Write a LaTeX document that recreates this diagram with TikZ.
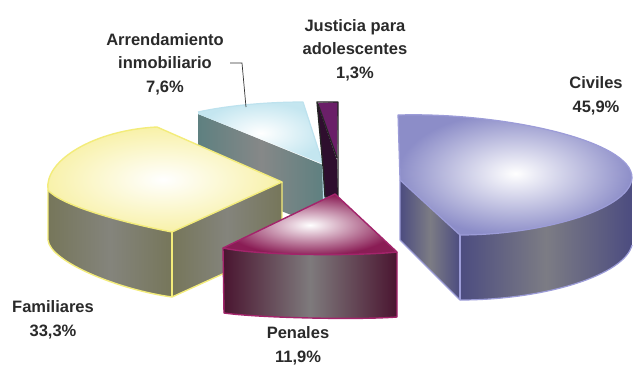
\documentclass[tikz,border=0pt]{standalone}
\usepackage{fontspec}
\setmainfont{Liberation Sans}
\definecolor{txt}{HTML}{2A2A2A}
\definecolor{civtop}{HTML}{8C8DC8}
\definecolor{civrim}{HTML}{9C9CD8}
\definecolor{civside}{HTML}{4C4C80}
\definecolor{civmid}{HTML}{7C7C84}
\definecolor{pentop}{HTML}{8A1D55}
\definecolor{penrim}{HTML}{A3246B}
\definecolor{penside}{HTML}{4A1530}
\definecolor{penmid}{HTML}{7E7A7C}
\definecolor{famtop}{HTML}{F8F1A8}
\definecolor{famrim}{HTML}{F3EC7A}
\definecolor{famside}{HTML}{76765A}
\definecolor{fammid}{HTML}{84847C}
\definecolor{arrtop}{HTML}{C4E6F0}
\definecolor{arrrim}{HTML}{BDE2EE}
\definecolor{arrside}{HTML}{5E8080}
\definecolor{arrmid}{HTML}{868888}
\definecolor{juslight}{HTML}{6A1F68}
\definecolor{jusdark}{HTML}{2E0E2E}
\tikzset{
  lbl/.style={font=\bfseries\fontsize{16.5}{23.5}\selectfont, text=txt, align=center, inner sep=0pt},
  rimline/.style={line width=1.4pt, line join=round},
}
\begin{document}
\begin{tikzpicture}[x=1pt,y=-1pt]
\useasboundingbox (0,0) rectangle (633,367);
\fill[white] (0,0) rectangle (633,367);

% ---------- Arrendamiento inmobiliario ----------
\path[shade, left color=arrside, right color=arrside, middle color=arrmid]
  (198,114) -- (323,165) -- (324,228) -- (198,178) -- cycle;
\fill[arrrim] (322,163) -- (326,163) -- (328,200) -- (323,200) -- cycle;
\path[shade, inner color=white, outer color=arrtop]
  (198,112) .. controls (230,105) and (270,102) .. (303,102) -- (323,164) -- (198,114) -- cycle;
\draw[arrrim, line width=1.2pt, line join=round]
  (198,112) .. controls (230,105) and (270,102) .. (303,102) -- (323,164);

% ---------- Justicia para adolescentes ----------
\fill[jusdark] (317,102) -- (337,160) -- (338,197) -- (325,197) -- (323,167) -- cycle;
\fill[juslight] (318,103) -- (338,102) -- (337,158) -- cycle;
\draw[black!85, line width=1.3pt] (318,104) -- (337,158);
\draw[black!85, line width=1.3pt, line join=round]
  (317,102) -- (338,102) -- (338,197) -- (325,197) -- (323,167) -- cycle;

% ---------- Familiares ----------
\path[shade, left color=famside, right color=famside, middle color=fammid]
  (48,190) -- (48,240) .. controls (50,262) and (120,290) .. (172,297) -- (172,232)
  .. controls (120,222) and (60,205) .. (48,190) -- cycle;
\path[shade, left color=famside, right color=famside, middle color=fammid]
  (172,232) -- (282,182) -- (282,247) -- (172,297) -- cycle;
\path[shade, inner color=white, outer color=famtop]
  (157,127) -- (282,182) -- (172,232) .. controls (120,222) and (60,205) .. (48,190)
  .. controls (44,160) and (95,130) .. (157,127) -- cycle;
\draw[famrim, rimline]
  (157,127) -- (282,182) -- (172,232) .. controls (120,222) and (60,205) .. (48,190)
  .. controls (44,160) and (95,130) .. (157,127) -- cycle;
\draw[famrim, rimline]
  (48,190) -- (48,240) .. controls (50,262) and (120,290) .. (172,297) -- (282,247) -- (282,182);
\draw[famrim, rimline] (172,232) -- (172,297);

% ---------- Penales ----------
\path[shade, left color=penside, right color=penside, middle color=penmid]
  (223,248) .. controls (260,256) and (360,256) .. (397,252) -- (397,317)
  .. controls (360,320) and (260,318) .. (224,313) -- cycle;
\path[shade, inner color=white, outer color=pentop]
  (335,194) -- (397,252) .. controls (360,256) and (260,256) .. (223,248) -- cycle;
\draw[penrim, rimline]
  (335,194) -- (397,252) .. controls (360,256) and (260,256) .. (223,248) -- cycle;
\draw[penrim, rimline]
  (223,248) -- (224,313) .. controls (260,318) and (360,320) .. (397,317) -- (397,252);

% ---------- Civiles ----------
\path[shade, left color=civside, right color=civside, middle color=civmid]
  (400,180) -- (460,235) -- (460,300) -- (400,240) -- cycle;
\path[shade, left color=civside, right color=civside, middle color=civmid]
  (460,235) .. controls (540,235) and (630,210) .. (632,178) -- (632,245)
  .. controls (625,275) and (545,300) .. (460,300) -- cycle;
\path[shade, inner color=white, outer color=civtop]
  (398,115) .. controls (500,112) and (633,140) .. (632,178)
  .. controls (630,210) and (540,235) .. (460,235) -- (400,180) -- cycle;
\draw[civrim, line width=1.2pt, line join=round]
  (398,115) .. controls (500,112) and (633,140) .. (632,178)
  .. controls (630,210) and (540,235) .. (460,235) -- (400,180) -- cycle;
\draw[civrim, line width=1.2pt, line join=round]
  (400,180) -- (400,240) -- (460,300) .. controls (545,300) and (625,275) .. (632,245);
\draw[civrim, line width=1.2pt] (460,235) -- (460,300);

% ---------- leader ----------
\coordinate (la) at (230,63);
\coordinate (lb) at (242,63);
\coordinate (lc) at (246,107);
\draw[black!80, line width=0.7pt] (la) -- (lb) -- (lc);

% ---------- labels ----------
\node[lbl] (arr) at (165,64) {Arrendamiento\\inmobiliario\\7,6\%};
\node[lbl] (jus) at (355,50) {Justicia para\\adolescentes\\1,3\%};
\node[lbl] (civ) at (596,96) {Civiles\\45,9\%};
\node[lbl] (fam) at (53,320) {Familiares\\33,3\%};
\node[lbl] (pen) at (298,346) {Penales\\11,9\%};
\end{tikzpicture}
\end{document}
